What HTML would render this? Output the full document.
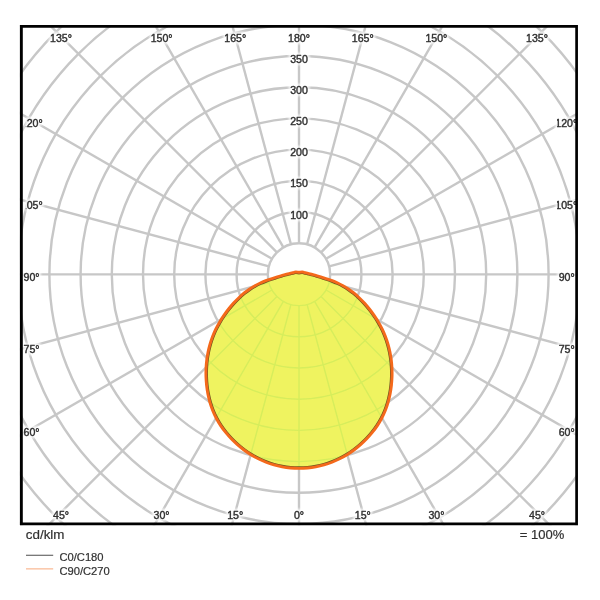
<!DOCTYPE html>
<html lang="en">
<head>
<meta charset="utf-8">
<title>Polar light distribution</title>
<style>
html,body{margin:0;padding:0;background:#fff;}
body{width:600px;height:600px;overflow:hidden;position:relative;font-family:"Liberation Sans",Arial,sans-serif;color:#303030;}
svg{position:absolute;left:0;top:0;display:block;}
.t{position:absolute;white-space:nowrap;line-height:1;}
</style>
</head>
<body>
<svg width="600" height="600" viewBox="0 0 600 600" style="filter:blur(0.45px)">
<defs>
<filter id="gb" x="-5%" y="-5%" width="110%" height="110%"><feGaussianBlur stdDeviation="0.55"/></filter>
<filter id="halo" x="-2%" y="-2%" width="104%" height="104%" color-interpolation-filters="sRGB">
<feMorphology in="SourceAlpha" operator="dilate" radius="1.6" result="d"/>
<feGaussianBlur in="d" stdDeviation="1.1" result="b"/>
<feFlood flood-color="#fff" flood-opacity="0.85"/>
<feComposite in2="b" operator="in" result="h"/>
<feMerge><feMergeNode in="h"/><feMergeNode in="SourceGraphic"/></feMerge>
</filter>
<clipPath id="lc"><rect x="25.8" y="0" width="523.4" height="600"/><rect x="557" y="0" width="22" height="600"/></clipPath>
<clipPath id="fr"><rect x="19.9" y="24.9" width="558.1" height="500.4"/></clipPath>
<clipPath id="cv"><path d="M299.00,272.36 C298.95,272.36 298.90,272.35 298.85,272.35 C298.80,272.34 298.75,272.33 298.70,272.32 C298.65,272.31 298.60,272.29 298.54,272.28 C298.49,272.28 298.44,272.27 298.39,272.26 C298.33,272.25 298.28,272.24 298.22,272.23 C298.17,272.23 298.11,272.22 298.05,272.21 C297.99,272.20 297.94,272.18 297.87,272.17 C297.81,272.16 297.75,272.15 297.69,272.14 C297.62,272.12 297.56,272.11 297.49,272.10 C297.43,272.10 297.36,272.09 297.30,272.08 C297.23,272.08 297.16,272.07 297.09,272.07 C297.02,272.07 296.95,272.07 296.88,272.07 C296.81,272.07 296.74,272.07 296.67,272.07 C296.59,272.08 296.52,272.08 296.44,272.08 C296.36,272.08 296.27,272.08 296.19,272.07 C296.10,272.07 296.01,272.07 295.92,272.07 C295.83,272.07 295.74,272.06 295.65,272.06 C295.55,272.06 295.46,272.06 295.36,272.07 C295.27,272.07 295.17,272.08 295.07,272.09 C294.97,272.10 294.88,272.12 294.78,272.13 C294.68,272.15 294.58,272.17 294.48,272.19 C294.38,272.22 294.28,272.24 294.18,272.28 C294.07,272.31 293.97,272.34 293.87,272.38 C293.77,272.41 293.67,272.45 293.57,272.49 C293.47,272.53 293.37,272.57 293.25,272.61 C293.13,272.65 293.01,272.68 292.87,272.71 C292.73,272.74 292.57,272.77 292.39,272.79 C292.22,272.82 292.02,272.84 291.82,272.88 C291.63,272.91 291.42,272.95 291.22,273.00 C291.01,273.04 290.81,273.10 290.59,273.16 C290.38,273.22 290.17,273.28 289.92,273.35 C289.67,273.42 289.41,273.49 289.08,273.58 C288.76,273.67 288.40,273.76 287.95,273.87 C287.50,273.98 287.01,274.08 286.37,274.24 C285.74,274.40 285.05,274.56 284.13,274.82 C283.21,275.07 282.15,275.39 280.87,275.77 C279.59,276.16 278.06,276.63 276.46,277.13 C274.86,277.64 273.03,278.20 271.25,278.80 C269.46,279.40 267.58,280.03 265.76,280.72 C263.93,281.41 262.10,282.13 260.30,282.96 C258.50,283.78 256.72,284.65 254.94,285.65 C253.15,286.65 251.38,287.73 249.60,288.95 C247.81,290.17 246.02,291.50 244.22,292.96 C242.43,294.41 240.62,296.00 238.85,297.68 C237.08,299.36 235.31,301.17 233.60,303.05 C231.89,304.94 230.20,306.94 228.58,309.00 C226.96,311.06 225.37,313.21 223.87,315.40 C222.36,317.59 220.90,319.84 219.54,322.14 C218.19,324.44 216.91,326.80 215.75,329.20 C214.58,331.60 213.52,334.06 212.56,336.55 C211.60,339.05 210.75,341.59 209.99,344.19 C209.24,346.78 208.58,349.43 208.04,352.11 C207.49,354.79 207.04,357.54 206.70,360.29 C206.37,363.05 206.14,365.85 206.01,368.64 C205.89,371.43 205.88,374.24 205.97,377.06 C206.07,379.87 206.27,382.69 206.59,385.51 C206.91,388.32 207.33,391.15 207.88,393.96 C208.43,396.76 209.10,399.57 209.90,402.33 C210.70,405.08 211.63,407.83 212.69,410.49 C213.75,413.14 214.94,415.76 216.27,418.28 C217.59,420.80 219.06,423.24 220.63,425.60 C222.20,427.97 223.90,430.24 225.68,432.45 C227.45,434.65 229.33,436.78 231.29,438.82 C233.25,440.86 235.30,442.83 237.42,444.69 C239.53,446.56 241.73,448.35 243.99,450.03 C246.25,451.70 248.57,453.29 250.96,454.76 C253.35,456.22 255.81,457.57 258.31,458.82 C260.81,460.07 263.38,461.21 265.98,462.23 C268.59,463.26 271.25,464.18 273.95,464.95 C276.64,465.73 279.40,466.37 282.16,466.88 C284.93,467.39 287.74,467.77 290.54,468.02 C293.35,468.28 296.18,468.41 299.00,468.41 C301.82,468.41 304.65,468.28 307.46,468.02 C310.26,467.77 313.07,467.39 315.84,466.88 C318.60,466.37 321.36,465.73 324.05,464.95 C326.75,464.18 329.41,463.26 332.02,462.23 C334.62,461.21 337.19,460.07 339.69,458.82 C342.19,457.57 344.65,456.22 347.04,454.76 C349.43,453.29 351.75,451.70 354.01,450.03 C356.27,448.35 358.47,446.56 360.58,444.69 C362.70,442.83 364.75,440.86 366.71,438.82 C368.67,436.78 370.55,434.65 372.32,432.45 C374.10,430.24 375.80,427.97 377.37,425.60 C378.94,423.24 380.41,420.80 381.73,418.28 C383.06,415.76 384.25,413.14 385.31,410.49 C386.37,407.83 387.30,405.08 388.10,402.33 C388.90,399.57 389.57,396.76 390.12,393.96 C390.67,391.15 391.09,388.32 391.41,385.51 C391.73,382.69 391.93,379.87 392.03,377.06 C392.12,374.24 392.11,371.43 391.99,368.64 C391.86,365.85 391.63,363.05 391.30,360.29 C390.96,357.54 390.51,354.79 389.96,352.11 C389.42,349.43 388.76,346.78 388.01,344.19 C387.25,341.59 386.40,339.05 385.44,336.55 C384.48,334.06 383.42,331.60 382.25,329.20 C381.09,326.80 379.81,324.44 378.46,322.14 C377.10,319.84 375.64,317.59 374.13,315.40 C372.63,313.21 371.04,311.06 369.42,309.00 C367.80,306.94 366.11,304.94 364.40,303.05 C362.69,301.17 360.92,299.36 359.15,297.68 C357.38,296.00 355.57,294.41 353.78,292.96 C351.98,291.50 350.19,290.17 348.40,288.95 C346.62,287.73 344.85,286.65 343.06,285.65 C341.28,284.65 339.50,283.78 337.70,282.96 C335.90,282.13 334.07,281.41 332.24,280.72 C330.42,280.03 328.54,279.40 326.75,278.80 C324.97,278.20 323.14,277.64 321.54,277.13 C319.94,276.63 318.41,276.16 317.13,275.77 C315.85,275.39 314.79,275.07 313.87,274.82 C312.95,274.56 312.26,274.40 311.63,274.24 C310.99,274.08 310.50,273.98 310.05,273.87 C309.60,273.76 309.24,273.67 308.92,273.58 C308.59,273.49 308.33,273.42 308.08,273.35 C307.83,273.28 307.62,273.22 307.41,273.16 C307.19,273.10 306.99,273.04 306.78,273.00 C306.58,272.95 306.37,272.91 306.18,272.88 C305.98,272.84 305.78,272.82 305.61,272.79 C305.43,272.77 305.27,272.74 305.13,272.71 C304.99,272.68 304.87,272.65 304.75,272.61 C304.63,272.57 304.53,272.53 304.43,272.49 C304.33,272.45 304.23,272.41 304.13,272.38 C304.03,272.34 303.93,272.31 303.82,272.28 C303.72,272.24 303.62,272.22 303.52,272.19 C303.42,272.17 303.32,272.15 303.22,272.13 C303.12,272.12 303.03,272.10 302.93,272.09 C302.83,272.08 302.73,272.07 302.64,272.07 C302.54,272.06 302.45,272.06 302.35,272.06 C302.26,272.06 302.17,272.07 302.08,272.07 C301.99,272.07 301.90,272.07 301.81,272.07 C301.73,272.08 301.64,272.08 301.56,272.08 C301.48,272.08 301.41,272.08 301.33,272.07 C301.26,272.07 301.19,272.07 301.12,272.07 C301.05,272.07 300.98,272.07 300.91,272.07 C300.84,272.07 300.77,272.08 300.70,272.08 C300.64,272.09 300.57,272.10 300.51,272.10 C300.44,272.11 300.38,272.12 300.31,272.14 C300.25,272.15 300.19,272.16 300.13,272.17 C300.06,272.18 300.01,272.20 299.95,272.21 C299.89,272.22 299.83,272.23 299.78,272.23 C299.72,272.24 299.67,272.25 299.61,272.26 C299.56,272.27 299.51,272.28 299.46,272.28 C299.40,272.29 299.35,272.31 299.30,272.32 C299.25,272.33 299.20,272.34 299.15,272.35 C299.10,272.35 299.05,272.36 299.00,272.36Z"/></clipPath>
<g id="grid" fill="none">
<circle cx="299" cy="274.4" r="31.20"/>
<circle cx="299" cy="274.4" r="62.40"/>
<circle cx="299" cy="274.4" r="93.60"/>
<circle cx="299" cy="274.4" r="124.80"/>
<circle cx="299" cy="274.4" r="156.00"/>
<circle cx="299" cy="274.4" r="187.20"/>
<circle cx="299" cy="274.4" r="218.40"/>
<circle cx="299" cy="274.4" r="249.60"/>
<circle cx="299" cy="274.4" r="280.80"/>
<circle cx="299" cy="274.4" r="312.00"/>
<circle cx="299" cy="274.4" r="343.20"/>
<circle cx="299" cy="274.4" r="374.40"/>
<line x1="299.00" y1="305.60" x2="299.00" y2="674.40"/>
<line x1="307.08" y1="304.54" x2="402.53" y2="660.77"/>
<line x1="314.60" y1="301.42" x2="499.00" y2="620.81"/>
<line x1="321.06" y1="296.46" x2="581.84" y2="557.24"/>
<line x1="326.02" y1="290.00" x2="645.41" y2="474.40"/>
<line x1="329.14" y1="282.48" x2="685.37" y2="377.93"/>
<line x1="330.20" y1="274.40" x2="699.00" y2="274.40"/>
<line x1="329.14" y1="266.32" x2="685.37" y2="170.87"/>
<line x1="326.02" y1="258.80" x2="645.41" y2="74.40"/>
<line x1="321.06" y1="252.34" x2="581.84" y2="-8.44"/>
<line x1="314.60" y1="247.38" x2="499.00" y2="-72.01"/>
<line x1="307.08" y1="244.26" x2="402.53" y2="-111.97"/>
<line x1="299.00" y1="243.20" x2="299.00" y2="-125.60"/>
<line x1="290.92" y1="244.26" x2="195.47" y2="-111.97"/>
<line x1="283.40" y1="247.38" x2="99.00" y2="-72.01"/>
<line x1="276.94" y1="252.34" x2="16.16" y2="-8.44"/>
<line x1="271.98" y1="258.80" x2="-47.41" y2="74.40"/>
<line x1="268.86" y1="266.32" x2="-87.37" y2="170.87"/>
<line x1="267.80" y1="274.40" x2="-101.00" y2="274.40"/>
<line x1="268.86" y1="282.48" x2="-87.37" y2="377.93"/>
<line x1="271.98" y1="290.00" x2="-47.41" y2="474.40"/>
<line x1="276.94" y1="296.46" x2="16.16" y2="557.24"/>
<line x1="283.40" y1="301.42" x2="99.00" y2="620.81"/>
<line x1="290.92" y1="304.54" x2="195.47" y2="660.77"/>
</g>
</defs>
<rect width="600" height="600" fill="#fff"/>
<g clip-path="url(#fr)">
<use href="#grid" stroke="#c7c7c7" stroke-width="2.4" filter="url(#gb)"/>
<path d="M299.00,272.36 C298.95,272.36 298.90,272.35 298.85,272.35 C298.80,272.34 298.75,272.33 298.70,272.32 C298.65,272.31 298.60,272.29 298.54,272.28 C298.49,272.28 298.44,272.27 298.39,272.26 C298.33,272.25 298.28,272.24 298.22,272.23 C298.17,272.23 298.11,272.22 298.05,272.21 C297.99,272.20 297.94,272.18 297.87,272.17 C297.81,272.16 297.75,272.15 297.69,272.14 C297.62,272.12 297.56,272.11 297.49,272.10 C297.43,272.10 297.36,272.09 297.30,272.08 C297.23,272.08 297.16,272.07 297.09,272.07 C297.02,272.07 296.95,272.07 296.88,272.07 C296.81,272.07 296.74,272.07 296.67,272.07 C296.59,272.08 296.52,272.08 296.44,272.08 C296.36,272.08 296.27,272.08 296.19,272.07 C296.10,272.07 296.01,272.07 295.92,272.07 C295.83,272.07 295.74,272.06 295.65,272.06 C295.55,272.06 295.46,272.06 295.36,272.07 C295.27,272.07 295.17,272.08 295.07,272.09 C294.97,272.10 294.88,272.12 294.78,272.13 C294.68,272.15 294.58,272.17 294.48,272.19 C294.38,272.22 294.28,272.24 294.18,272.28 C294.07,272.31 293.97,272.34 293.87,272.38 C293.77,272.41 293.67,272.45 293.57,272.49 C293.47,272.53 293.37,272.57 293.25,272.61 C293.13,272.65 293.01,272.68 292.87,272.71 C292.73,272.74 292.57,272.77 292.39,272.79 C292.22,272.82 292.02,272.84 291.82,272.88 C291.63,272.91 291.42,272.95 291.22,273.00 C291.01,273.04 290.81,273.10 290.59,273.16 C290.38,273.22 290.17,273.28 289.92,273.35 C289.67,273.42 289.41,273.49 289.08,273.58 C288.76,273.67 288.40,273.76 287.95,273.87 C287.50,273.98 287.01,274.08 286.37,274.24 C285.74,274.40 285.05,274.56 284.13,274.82 C283.21,275.07 282.15,275.39 280.87,275.77 C279.59,276.16 278.06,276.63 276.46,277.13 C274.86,277.64 273.03,278.20 271.25,278.80 C269.46,279.40 267.58,280.03 265.76,280.72 C263.93,281.41 262.10,282.13 260.30,282.96 C258.50,283.78 256.72,284.65 254.94,285.65 C253.15,286.65 251.38,287.73 249.60,288.95 C247.81,290.17 246.02,291.50 244.22,292.96 C242.43,294.41 240.62,296.00 238.85,297.68 C237.08,299.36 235.31,301.17 233.60,303.05 C231.89,304.94 230.20,306.94 228.58,309.00 C226.96,311.06 225.37,313.21 223.87,315.40 C222.36,317.59 220.90,319.84 219.54,322.14 C218.19,324.44 216.91,326.80 215.75,329.20 C214.58,331.60 213.52,334.06 212.56,336.55 C211.60,339.05 210.75,341.59 209.99,344.19 C209.24,346.78 208.58,349.43 208.04,352.11 C207.49,354.79 207.04,357.54 206.70,360.29 C206.37,363.05 206.14,365.85 206.01,368.64 C205.89,371.43 205.88,374.24 205.97,377.06 C206.07,379.87 206.27,382.69 206.59,385.51 C206.91,388.32 207.33,391.15 207.88,393.96 C208.43,396.76 209.10,399.57 209.90,402.33 C210.70,405.08 211.63,407.83 212.69,410.49 C213.75,413.14 214.94,415.76 216.27,418.28 C217.59,420.80 219.06,423.24 220.63,425.60 C222.20,427.97 223.90,430.24 225.68,432.45 C227.45,434.65 229.33,436.78 231.29,438.82 C233.25,440.86 235.30,442.83 237.42,444.69 C239.53,446.56 241.73,448.35 243.99,450.03 C246.25,451.70 248.57,453.29 250.96,454.76 C253.35,456.22 255.81,457.57 258.31,458.82 C260.81,460.07 263.38,461.21 265.98,462.23 C268.59,463.26 271.25,464.18 273.95,464.95 C276.64,465.73 279.40,466.37 282.16,466.88 C284.93,467.39 287.74,467.77 290.54,468.02 C293.35,468.28 296.18,468.41 299.00,468.41 C301.82,468.41 304.65,468.28 307.46,468.02 C310.26,467.77 313.07,467.39 315.84,466.88 C318.60,466.37 321.36,465.73 324.05,464.95 C326.75,464.18 329.41,463.26 332.02,462.23 C334.62,461.21 337.19,460.07 339.69,458.82 C342.19,457.57 344.65,456.22 347.04,454.76 C349.43,453.29 351.75,451.70 354.01,450.03 C356.27,448.35 358.47,446.56 360.58,444.69 C362.70,442.83 364.75,440.86 366.71,438.82 C368.67,436.78 370.55,434.65 372.32,432.45 C374.10,430.24 375.80,427.97 377.37,425.60 C378.94,423.24 380.41,420.80 381.73,418.28 C383.06,415.76 384.25,413.14 385.31,410.49 C386.37,407.83 387.30,405.08 388.10,402.33 C388.90,399.57 389.57,396.76 390.12,393.96 C390.67,391.15 391.09,388.32 391.41,385.51 C391.73,382.69 391.93,379.87 392.03,377.06 C392.12,374.24 392.11,371.43 391.99,368.64 C391.86,365.85 391.63,363.05 391.30,360.29 C390.96,357.54 390.51,354.79 389.96,352.11 C389.42,349.43 388.76,346.78 388.01,344.19 C387.25,341.59 386.40,339.05 385.44,336.55 C384.48,334.06 383.42,331.60 382.25,329.20 C381.09,326.80 379.81,324.44 378.46,322.14 C377.10,319.84 375.64,317.59 374.13,315.40 C372.63,313.21 371.04,311.06 369.42,309.00 C367.80,306.94 366.11,304.94 364.40,303.05 C362.69,301.17 360.92,299.36 359.15,297.68 C357.38,296.00 355.57,294.41 353.78,292.96 C351.98,291.50 350.19,290.17 348.40,288.95 C346.62,287.73 344.85,286.65 343.06,285.65 C341.28,284.65 339.50,283.78 337.70,282.96 C335.90,282.13 334.07,281.41 332.24,280.72 C330.42,280.03 328.54,279.40 326.75,278.80 C324.97,278.20 323.14,277.64 321.54,277.13 C319.94,276.63 318.41,276.16 317.13,275.77 C315.85,275.39 314.79,275.07 313.87,274.82 C312.95,274.56 312.26,274.40 311.63,274.24 C310.99,274.08 310.50,273.98 310.05,273.87 C309.60,273.76 309.24,273.67 308.92,273.58 C308.59,273.49 308.33,273.42 308.08,273.35 C307.83,273.28 307.62,273.22 307.41,273.16 C307.19,273.10 306.99,273.04 306.78,273.00 C306.58,272.95 306.37,272.91 306.18,272.88 C305.98,272.84 305.78,272.82 305.61,272.79 C305.43,272.77 305.27,272.74 305.13,272.71 C304.99,272.68 304.87,272.65 304.75,272.61 C304.63,272.57 304.53,272.53 304.43,272.49 C304.33,272.45 304.23,272.41 304.13,272.38 C304.03,272.34 303.93,272.31 303.82,272.28 C303.72,272.24 303.62,272.22 303.52,272.19 C303.42,272.17 303.32,272.15 303.22,272.13 C303.12,272.12 303.03,272.10 302.93,272.09 C302.83,272.08 302.73,272.07 302.64,272.07 C302.54,272.06 302.45,272.06 302.35,272.06 C302.26,272.06 302.17,272.07 302.08,272.07 C301.99,272.07 301.90,272.07 301.81,272.07 C301.73,272.08 301.64,272.08 301.56,272.08 C301.48,272.08 301.41,272.08 301.33,272.07 C301.26,272.07 301.19,272.07 301.12,272.07 C301.05,272.07 300.98,272.07 300.91,272.07 C300.84,272.07 300.77,272.08 300.70,272.08 C300.64,272.09 300.57,272.10 300.51,272.10 C300.44,272.11 300.38,272.12 300.31,272.14 C300.25,272.15 300.19,272.16 300.13,272.17 C300.06,272.18 300.01,272.20 299.95,272.21 C299.89,272.22 299.83,272.23 299.78,272.23 C299.72,272.24 299.67,272.25 299.61,272.26 C299.56,272.27 299.51,272.28 299.46,272.28 C299.40,272.29 299.35,272.31 299.30,272.32 C299.25,272.33 299.20,272.34 299.15,272.35 C299.10,272.35 299.05,272.36 299.00,272.36Z" fill="#eff360"/>
<g clip-path="url(#cv)"><use href="#grid" stroke="#d6ed5c" stroke-width="1.4" filter="url(#gb)"/></g>
<path d="M299.00,273.60 C298.89,273.60 298.77,273.59 298.68,273.58 C298.59,273.57 298.51,273.55 298.45,273.54 C298.39,273.53 298.36,273.52 298.31,273.51 C298.27,273.50 298.23,273.50 298.19,273.49 C298.14,273.48 298.09,273.48 298.03,273.47 C297.97,273.46 297.90,273.45 297.83,273.44 C297.77,273.43 297.70,273.41 297.63,273.40 C297.57,273.39 297.52,273.38 297.47,273.37 C297.41,273.36 297.37,273.35 297.32,273.34 C297.28,273.34 297.24,273.33 297.19,273.33 C297.15,273.32 297.10,273.32 297.05,273.32 C297.00,273.32 296.95,273.32 296.89,273.32 C296.83,273.32 296.76,273.32 296.69,273.32 C296.61,273.33 296.52,273.33 296.44,273.33 C296.35,273.33 296.26,273.33 296.18,273.32 C296.09,273.32 296.01,273.32 295.94,273.32 C295.86,273.31 295.79,273.31 295.72,273.31 C295.65,273.31 295.58,273.31 295.51,273.31 C295.44,273.31 295.37,273.31 295.30,273.32 C295.22,273.33 295.15,273.33 295.07,273.35 C295.00,273.36 294.92,273.37 294.85,273.39 C294.77,273.40 294.69,273.42 294.61,273.45 C294.53,273.47 294.46,273.49 294.37,273.52 C294.28,273.55 294.20,273.59 294.09,273.63 C293.98,273.67 293.86,273.72 293.72,273.77 C293.58,273.82 293.41,273.87 293.24,273.91 C293.07,273.95 292.88,273.98 292.70,274.01 C292.51,274.04 292.32,274.06 292.14,274.09 C291.96,274.12 291.78,274.15 291.59,274.19 C291.40,274.23 291.22,274.28 291.02,274.33 C290.81,274.39 290.60,274.46 290.33,274.53 C290.07,274.60 289.79,274.69 289.45,274.78 C289.10,274.87 288.72,274.97 288.26,275.08 C287.79,275.20 287.30,275.30 286.66,275.46 C286.01,275.62 285.32,275.78 284.40,276.04 C283.48,276.29 282.42,276.61 281.15,276.99 C279.88,277.38 278.36,277.84 276.77,278.34 C275.19,278.84 273.39,279.40 271.63,279.99 C269.87,280.58 268.02,281.20 266.23,281.88 C264.43,282.56 262.64,283.26 260.87,284.07 C259.09,284.88 257.35,285.73 255.59,286.71 C253.83,287.70 252.09,288.76 250.32,289.97 C248.56,291.17 246.78,292.49 245.01,293.93 C243.24,295.37 241.45,296.93 239.70,298.60 C237.95,300.26 236.20,302.05 234.51,303.92 C232.82,305.78 231.15,307.76 229.55,309.79 C227.95,311.83 226.38,313.95 224.89,316.11 C223.41,318.27 221.96,320.50 220.63,322.77 C219.29,325.04 218.03,327.36 216.88,329.73 C215.73,332.10 214.69,334.52 213.74,336.98 C212.79,339.45 211.95,341.96 211.20,344.52 C210.46,347.08 209.81,349.70 209.27,352.35 C208.73,355.01 208.28,357.72 207.95,360.44 C207.62,363.16 207.39,365.93 207.27,368.69 C207.15,371.45 207.13,374.22 207.23,377.00 C207.32,379.78 207.52,382.57 207.83,385.35 C208.15,388.14 208.56,390.94 209.11,393.71 C209.66,396.48 210.32,399.25 211.11,401.98 C211.90,404.70 212.81,407.40 213.86,410.03 C214.90,412.65 216.08,415.23 217.39,417.72 C218.69,420.20 220.14,422.61 221.69,424.94 C223.24,427.26 224.92,429.51 226.67,431.68 C228.42,433.86 230.28,435.96 232.21,437.98 C234.15,439.99 236.17,441.93 238.26,443.77 C240.35,445.62 242.52,447.38 244.74,449.03 C246.97,450.68 249.26,452.24 251.61,453.69 C253.96,455.13 256.38,456.46 258.84,457.69 C261.31,458.92 263.83,460.05 266.40,461.06 C268.97,462.07 271.59,462.98 274.25,463.74 C276.91,464.51 279.63,465.14 282.36,465.65 C285.09,466.15 287.87,466.53 290.64,466.78 C293.41,467.03 296.21,467.16 299.00,467.16 C301.79,467.16 304.59,467.03 307.36,466.78 C310.13,466.53 312.91,466.15 315.64,465.65 C318.37,465.14 321.09,464.51 323.75,463.74 C326.41,462.98 329.03,462.07 331.60,461.06 C334.17,460.05 336.69,458.92 339.16,457.69 C341.62,456.46 344.04,455.13 346.39,453.69 C348.74,452.24 351.03,450.68 353.26,449.03 C355.48,447.38 357.65,445.62 359.74,443.77 C361.83,441.93 363.85,439.99 365.79,437.98 C367.72,435.96 369.58,433.86 371.33,431.68 C373.08,429.51 374.76,427.26 376.31,424.94 C377.86,422.61 379.31,420.20 380.61,417.72 C381.92,415.23 383.10,412.65 384.14,410.03 C385.19,407.40 386.10,404.70 386.89,401.98 C387.68,399.25 388.34,396.48 388.89,393.71 C389.44,390.94 389.85,388.14 390.17,385.35 C390.48,382.57 390.68,379.78 390.77,377.00 C390.87,374.22 390.85,371.45 390.73,368.69 C390.61,365.93 390.38,363.16 390.05,360.44 C389.72,357.72 389.27,355.01 388.73,352.35 C388.19,349.70 387.54,347.08 386.80,344.52 C386.05,341.96 385.21,339.45 384.26,336.98 C383.31,334.52 382.27,332.10 381.12,329.73 C379.97,327.36 378.71,325.04 377.37,322.77 C376.04,320.50 374.59,318.27 373.11,316.11 C371.62,313.95 370.05,311.83 368.45,309.79 C366.85,307.76 365.18,305.78 363.49,303.92 C361.80,302.05 360.05,300.26 358.30,298.60 C356.55,296.93 354.76,295.37 352.99,293.93 C351.22,292.49 349.44,291.17 347.68,289.97 C345.91,288.76 344.17,287.70 342.41,286.71 C340.65,285.73 338.91,284.88 337.13,284.07 C335.36,283.26 333.57,282.56 331.77,281.88 C329.98,281.20 328.13,280.58 326.37,279.99 C324.61,279.40 322.81,278.84 321.23,278.34 C319.64,277.84 318.12,277.38 316.85,276.99 C315.58,276.61 314.52,276.29 313.60,276.04 C312.68,275.78 311.99,275.62 311.34,275.46 C310.70,275.30 310.21,275.20 309.74,275.08 C309.28,274.97 308.90,274.87 308.55,274.78 C308.21,274.69 307.93,274.60 307.67,274.53 C307.40,274.46 307.19,274.39 306.98,274.33 C306.78,274.28 306.60,274.23 306.41,274.19 C306.22,274.15 306.04,274.12 305.86,274.09 C305.68,274.06 305.49,274.04 305.30,274.01 C305.12,273.98 304.93,273.95 304.76,273.91 C304.59,273.87 304.42,273.82 304.28,273.77 C304.14,273.72 304.02,273.67 303.91,273.63 C303.80,273.59 303.72,273.55 303.63,273.52 C303.54,273.49 303.47,273.47 303.39,273.45 C303.31,273.42 303.23,273.40 303.15,273.39 C303.08,273.37 303.00,273.36 302.93,273.35 C302.85,273.33 302.78,273.33 302.70,273.32 C302.63,273.31 302.56,273.31 302.49,273.31 C302.42,273.31 302.35,273.31 302.28,273.31 C302.21,273.31 302.14,273.31 302.06,273.32 C301.99,273.32 301.91,273.32 301.82,273.32 C301.74,273.33 301.65,273.33 301.56,273.33 C301.48,273.33 301.39,273.33 301.31,273.32 C301.24,273.32 301.17,273.32 301.11,273.32 C301.05,273.32 301.00,273.32 300.95,273.32 C300.90,273.32 300.85,273.32 300.81,273.33 C300.76,273.33 300.72,273.34 300.68,273.34 C300.63,273.35 300.59,273.36 300.53,273.37 C300.48,273.38 300.43,273.39 300.37,273.40 C300.30,273.41 300.23,273.43 300.17,273.44 C300.10,273.45 300.03,273.46 299.97,273.47 C299.91,273.48 299.86,273.48 299.81,273.49 C299.77,273.50 299.73,273.50 299.69,273.51 C299.64,273.52 299.61,273.53 299.55,273.54 C299.49,273.55 299.41,273.57 299.32,273.58 C299.23,273.59 299.11,273.60 299.00,273.60Z" fill="none" stroke="#6b5520" stroke-width="1.6" stroke-linejoin="round"/>
<path d="M299.00,272.36 C298.95,272.36 298.90,272.35 298.85,272.35 C298.80,272.34 298.75,272.33 298.70,272.32 C298.65,272.31 298.60,272.29 298.54,272.28 C298.49,272.28 298.44,272.27 298.39,272.26 C298.33,272.25 298.28,272.24 298.22,272.23 C298.17,272.23 298.11,272.22 298.05,272.21 C297.99,272.20 297.94,272.18 297.87,272.17 C297.81,272.16 297.75,272.15 297.69,272.14 C297.62,272.12 297.56,272.11 297.49,272.10 C297.43,272.10 297.36,272.09 297.30,272.08 C297.23,272.08 297.16,272.07 297.09,272.07 C297.02,272.07 296.95,272.07 296.88,272.07 C296.81,272.07 296.74,272.07 296.67,272.07 C296.59,272.08 296.52,272.08 296.44,272.08 C296.36,272.08 296.27,272.08 296.19,272.07 C296.10,272.07 296.01,272.07 295.92,272.07 C295.83,272.07 295.74,272.06 295.65,272.06 C295.55,272.06 295.46,272.06 295.36,272.07 C295.27,272.07 295.17,272.08 295.07,272.09 C294.97,272.10 294.88,272.12 294.78,272.13 C294.68,272.15 294.58,272.17 294.48,272.19 C294.38,272.22 294.28,272.24 294.18,272.28 C294.07,272.31 293.97,272.34 293.87,272.38 C293.77,272.41 293.67,272.45 293.57,272.49 C293.47,272.53 293.37,272.57 293.25,272.61 C293.13,272.65 293.01,272.68 292.87,272.71 C292.73,272.74 292.57,272.77 292.39,272.79 C292.22,272.82 292.02,272.84 291.82,272.88 C291.63,272.91 291.42,272.95 291.22,273.00 C291.01,273.04 290.81,273.10 290.59,273.16 C290.38,273.22 290.17,273.28 289.92,273.35 C289.67,273.42 289.41,273.49 289.08,273.58 C288.76,273.67 288.40,273.76 287.95,273.87 C287.50,273.98 287.01,274.08 286.37,274.24 C285.74,274.40 285.05,274.56 284.13,274.82 C283.21,275.07 282.15,275.39 280.87,275.77 C279.59,276.16 278.06,276.63 276.46,277.13 C274.86,277.64 273.03,278.20 271.25,278.80 C269.46,279.40 267.58,280.03 265.76,280.72 C263.93,281.41 262.10,282.13 260.30,282.96 C258.50,283.78 256.72,284.65 254.94,285.65 C253.15,286.65 251.38,287.73 249.60,288.95 C247.81,290.17 246.02,291.50 244.22,292.96 C242.43,294.41 240.62,296.00 238.85,297.68 C237.08,299.36 235.31,301.17 233.60,303.05 C231.89,304.94 230.20,306.94 228.58,309.00 C226.96,311.06 225.37,313.21 223.87,315.40 C222.36,317.59 220.90,319.84 219.54,322.14 C218.19,324.44 216.91,326.80 215.75,329.20 C214.58,331.60 213.52,334.06 212.56,336.55 C211.60,339.05 210.75,341.59 209.99,344.19 C209.24,346.78 208.58,349.43 208.04,352.11 C207.49,354.79 207.04,357.54 206.70,360.29 C206.37,363.05 206.14,365.85 206.01,368.64 C205.89,371.43 205.88,374.24 205.97,377.06 C206.07,379.87 206.27,382.69 206.59,385.51 C206.91,388.32 207.33,391.15 207.88,393.96 C208.43,396.76 209.10,399.57 209.90,402.33 C210.70,405.08 211.63,407.83 212.69,410.49 C213.75,413.14 214.94,415.76 216.27,418.28 C217.59,420.80 219.06,423.24 220.63,425.60 C222.20,427.97 223.90,430.24 225.68,432.45 C227.45,434.65 229.33,436.78 231.29,438.82 C233.25,440.86 235.30,442.83 237.42,444.69 C239.53,446.56 241.73,448.35 243.99,450.03 C246.25,451.70 248.57,453.29 250.96,454.76 C253.35,456.22 255.81,457.57 258.31,458.82 C260.81,460.07 263.38,461.21 265.98,462.23 C268.59,463.26 271.25,464.18 273.95,464.95 C276.64,465.73 279.40,466.37 282.16,466.88 C284.93,467.39 287.74,467.77 290.54,468.02 C293.35,468.28 296.18,468.41 299.00,468.41 C301.82,468.41 304.65,468.28 307.46,468.02 C310.26,467.77 313.07,467.39 315.84,466.88 C318.60,466.37 321.36,465.73 324.05,464.95 C326.75,464.18 329.41,463.26 332.02,462.23 C334.62,461.21 337.19,460.07 339.69,458.82 C342.19,457.57 344.65,456.22 347.04,454.76 C349.43,453.29 351.75,451.70 354.01,450.03 C356.27,448.35 358.47,446.56 360.58,444.69 C362.70,442.83 364.75,440.86 366.71,438.82 C368.67,436.78 370.55,434.65 372.32,432.45 C374.10,430.24 375.80,427.97 377.37,425.60 C378.94,423.24 380.41,420.80 381.73,418.28 C383.06,415.76 384.25,413.14 385.31,410.49 C386.37,407.83 387.30,405.08 388.10,402.33 C388.90,399.57 389.57,396.76 390.12,393.96 C390.67,391.15 391.09,388.32 391.41,385.51 C391.73,382.69 391.93,379.87 392.03,377.06 C392.12,374.24 392.11,371.43 391.99,368.64 C391.86,365.85 391.63,363.05 391.30,360.29 C390.96,357.54 390.51,354.79 389.96,352.11 C389.42,349.43 388.76,346.78 388.01,344.19 C387.25,341.59 386.40,339.05 385.44,336.55 C384.48,334.06 383.42,331.60 382.25,329.20 C381.09,326.80 379.81,324.44 378.46,322.14 C377.10,319.84 375.64,317.59 374.13,315.40 C372.63,313.21 371.04,311.06 369.42,309.00 C367.80,306.94 366.11,304.94 364.40,303.05 C362.69,301.17 360.92,299.36 359.15,297.68 C357.38,296.00 355.57,294.41 353.78,292.96 C351.98,291.50 350.19,290.17 348.40,288.95 C346.62,287.73 344.85,286.65 343.06,285.65 C341.28,284.65 339.50,283.78 337.70,282.96 C335.90,282.13 334.07,281.41 332.24,280.72 C330.42,280.03 328.54,279.40 326.75,278.80 C324.97,278.20 323.14,277.64 321.54,277.13 C319.94,276.63 318.41,276.16 317.13,275.77 C315.85,275.39 314.79,275.07 313.87,274.82 C312.95,274.56 312.26,274.40 311.63,274.24 C310.99,274.08 310.50,273.98 310.05,273.87 C309.60,273.76 309.24,273.67 308.92,273.58 C308.59,273.49 308.33,273.42 308.08,273.35 C307.83,273.28 307.62,273.22 307.41,273.16 C307.19,273.10 306.99,273.04 306.78,273.00 C306.58,272.95 306.37,272.91 306.18,272.88 C305.98,272.84 305.78,272.82 305.61,272.79 C305.43,272.77 305.27,272.74 305.13,272.71 C304.99,272.68 304.87,272.65 304.75,272.61 C304.63,272.57 304.53,272.53 304.43,272.49 C304.33,272.45 304.23,272.41 304.13,272.38 C304.03,272.34 303.93,272.31 303.82,272.28 C303.72,272.24 303.62,272.22 303.52,272.19 C303.42,272.17 303.32,272.15 303.22,272.13 C303.12,272.12 303.03,272.10 302.93,272.09 C302.83,272.08 302.73,272.07 302.64,272.07 C302.54,272.06 302.45,272.06 302.35,272.06 C302.26,272.06 302.17,272.07 302.08,272.07 C301.99,272.07 301.90,272.07 301.81,272.07 C301.73,272.08 301.64,272.08 301.56,272.08 C301.48,272.08 301.41,272.08 301.33,272.07 C301.26,272.07 301.19,272.07 301.12,272.07 C301.05,272.07 300.98,272.07 300.91,272.07 C300.84,272.07 300.77,272.08 300.70,272.08 C300.64,272.09 300.57,272.10 300.51,272.10 C300.44,272.11 300.38,272.12 300.31,272.14 C300.25,272.15 300.19,272.16 300.13,272.17 C300.06,272.18 300.01,272.20 299.95,272.21 C299.89,272.22 299.83,272.23 299.78,272.23 C299.72,272.24 299.67,272.25 299.61,272.26 C299.56,272.27 299.51,272.28 299.46,272.28 C299.40,272.29 299.35,272.31 299.30,272.32 C299.25,272.33 299.20,272.34 299.15,272.35 C299.10,272.35 299.05,272.36 299.00,272.36Z" fill="none" stroke="#f4691b" stroke-width="2.9" stroke-linejoin="round"/>
<g font-family="'Liberation Sans',Arial,sans-serif" font-size="10.6" fill="#303030" text-anchor="middle" stroke="#303030" stroke-width="0.4" stroke-linejoin="round" filter="url(#halo)">
<text x="299.0" y="518.8">0°</text>
<text x="299.0" y="41.9">180°</text>
<text x="235.2" y="518.8">15°</text>
<text x="235.2" y="41.9">165°</text>
<text x="362.8" y="518.8">15°</text>
<text x="362.8" y="41.9">165°</text>
<text x="161.6" y="518.8">30°</text>
<text x="161.6" y="41.9">150°</text>
<text x="436.4" y="518.8">30°</text>
<text x="436.4" y="41.9">150°</text>
<text x="61.0" y="518.8">45°</text>
<text x="61.0" y="41.9">135°</text>
<text x="537.0" y="518.8">45°</text>
<text x="537.0" y="41.9">135°</text>
<text x="31.5" y="435.7">60°</text>
<text x="566.7" y="435.7">60°</text>
<text x="31.5" y="352.8">75°</text>
<text x="566.7" y="352.8">75°</text>
<text x="31.5" y="281.0">90°</text>
<text x="566.7" y="281.0">90°</text>
<text x="299.0" y="218.6">100</text>
<text x="299.0" y="187.4">150</text>
<text x="299.0" y="156.2">200</text>
<text x="299.0" y="125.0">250</text>
<text x="299.0" y="93.8">300</text>
<text x="299.0" y="62.6">350</text>
<g clip-path="url(#lc)">
<text x="31.8" y="126.5">120°</text>
<text x="566.2" y="126.5">120°</text>
<text x="31.8" y="209.4">105°</text>
<text x="566.2" y="209.4">105°</text>
</g>
</g>
</g>
<path d="M19.9,24.95H577.95V525.25H19.9Z M22.8,27.85V522.6H575.25V27.85Z" fill="#000" fill-rule="evenodd"/>
<line x1="26" y1="555.3" x2="53.2" y2="555.3" stroke="#6a6a6a" stroke-width="1.2"/>
<line x1="26" y1="568.9" x2="53.2" y2="568.9" stroke="#f8a97a" stroke-width="1"/>
<g font-family="'Liberation Sans',Arial,sans-serif" fill="#303030" stroke="#303030" stroke-width="0.2">
<text x="25.8" y="539.0" font-size="13.4">cd/klm</text>
<text x="564.3" y="539.3" font-size="13" text-anchor="end">= 100%</text>
<text x="59.4" y="560.7" font-size="11.2">C0/C180</text>
<text x="59.4" y="574.5" font-size="11.2">C90/C270</text>
</g>
</svg>
</body>
</html>
